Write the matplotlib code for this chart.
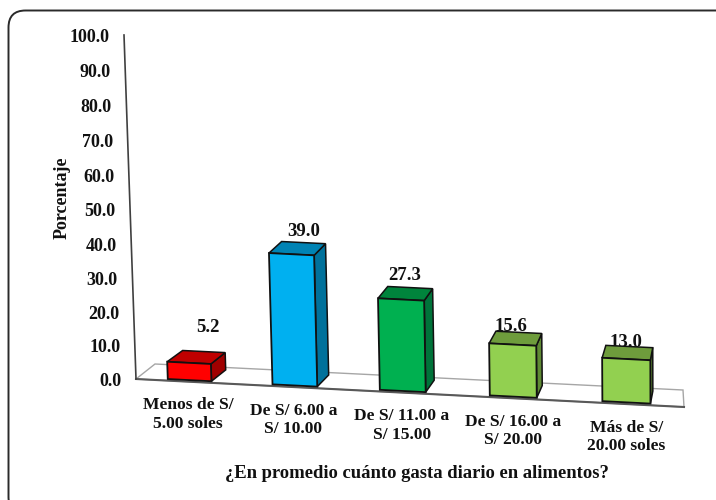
import numpy as np
import matplotlib
matplotlib.use('Agg')
import matplotlib.pyplot as plt
from matplotlib.patches import FancyBboxPatch, Polygon

plt.rcParams['font.family'] = ['Liberation Serif', 'DejaVu Serif']
plt.rcParams['font.weight'] = 'bold'

categories = ['Menos de S/\n5.00 soles', 'De S/ 6.00 a\nS/ 10.00', 'De S/ 11.00 a\nS/ 15.00',
              'De S/ 16.00 a\nS/ 20.00', 'Más de S/\n20.00 soles']
values = [5.2, 39.0, 27.3, 15.6, 13.0]
y_ticks = [0, 10, 20, 30, 40, 50, 60, 70, 80, 90, 100]
label_offsets = [(4, -24), (0, -11), (-5, -12), (-8, -6), (-3, -4)]

front_colors = ['#FF0000', '#00B0F0', '#00B050', '#92D050', '#92D050']
top_colors = ['#C00000', '#0083B4', '#00843C', '#6E9C3C', '#6E9C3C']
side_colors = ['#A00000', '#00719B', '#00733A', '#5F8A34', '#5F8A34']

# floor corners in pixels: front left, front right, back left, back right
FL, FR, BL, BR = map(np.array, [(136, 379), (684, 407), (155, 364), (683, 390)])
PX_PER_UNIT = 3.44
BAR_WIDTH = 0.42
BAR_FRONT, BAR_BACK = 0.1, 0.85
BAR_SKEW = 0.02


def project(u, v, h):
    # u is category position (0-5), v depth (0-1), h the value
    t = (u - 0.012 * u * (5 - u)) / 5
    floor = (1 - v) * ((1 - t) * FL + t * FR) + v * ((1 - t) * BL + t * BR)
    lift = PX_PER_UNIT * h - 0.0012 * h * (100 - h)
    return floor[0] - 0.12 * (1 - t) * h, floor[1] - lift


fig = plt.figure(figsize=(7.16, 5), dpi=100)
ax = fig.add_axes([0, 0, 1, 1])
ax.set_xlim(0, 716)
ax.set_ylim(500, 0)
ax.axis('off')

ax.add_patch(FancyBboxPatch((8.5, 10.5), 760, 503.5, boxstyle='round,pad=0,rounding_size=17',
                            fc='white', ec='#2A2A2A', lw=1.4, zorder=0))

# floor of the chart
ax.add_patch(Polygon([project(0, 0, 0), project(5, 0, 0), project(5, 1, 0), project(0, 1, 0)],
                     fc='white', ec='#A6A6A6', lw=1, zorder=1))
ax.plot(*zip(project(0, 0, 0), project(5, 0, 0)), color='#595959', lw=1.5, zorder=2)
ax.plot(*zip(project(0, 0, 0), project(0, 0, 100)), color='#404040', lw=1.2, zorder=2)

for t in y_ticks:
    x, y = project(0, 0, t)
    ax.text(x - 14.5, y + 2, f'{t:.1f}', ha='right', va='center', fontsize=13, color='#111111')

for i, val in enumerate(values):
    c = i + 0.5
    left, right = c - BAR_WIDTH / 2, c + BAR_WIDTH / 2
    tl, tr = project(left, BAR_FRONT, val), project(right, BAR_FRONT, val)
    bl, br = project(left, BAR_FRONT, 0), project(right, BAR_FRONT, 0)
    btl = project(left + BAR_SKEW, BAR_BACK, val)
    btr = project(right + BAR_SKEW, BAR_BACK, val)
    bbr = project(right + BAR_SKEW, BAR_BACK, 0)

    ax.add_patch(Polygon([br, tr, btr, bbr], fc=side_colors[i], ec='#111111', lw=1.1, zorder=4))
    ax.add_patch(Polygon([tl, tr, btr, btl], fc=top_colors[i], ec='#111111', lw=1.1, zorder=4))
    ax.add_patch(Polygon([bl, br, tr, tl], fc=front_colors[i], ec='#111111', lw=1.3, zorder=5))

    # value labels sit under the bars so the last two get cut by the top face
    x, y = project(c + BAR_SKEW, BAR_BACK, val)
    dx, dy = label_offsets[i]
    ax.text(x + dx, y + dy, f'{val:.1f}', ha='center', va='center', fontsize=13.5,
            color='#111111', zorder=3)

    x, y = project(c, 0, 0)
    ax.text(x, y + 33, categories[i], ha='center', va='center', fontsize=12.6,
            linespacing=1.2, color='#111111')

ax.text(62, 198, 'Porcentaje', rotation=90, ha='center', va='center', fontsize=13, color='#111111')
ax.text(417, 474, '¿En promedio cuánto gasta diario en alimentos?', ha='center', va='center',
        fontsize=13.4, color='#111111')

plt.savefig('out.png', dpi=100)
plt.close()
